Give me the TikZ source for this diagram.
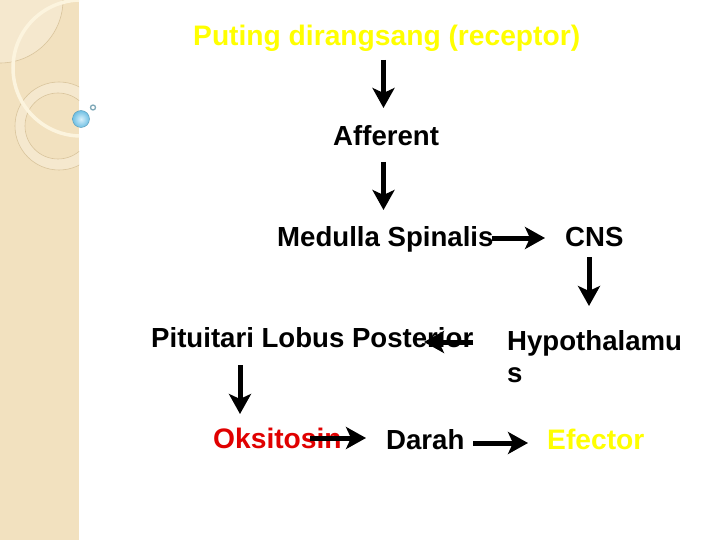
\documentclass[tikz,border=0pt]{standalone}
\usepackage{fontspec}
\setmainfont{Liberation Sans}
\usetikzlibrary{arrows.meta}
\definecolor{panel}{HTML}{F2E1BF}
\definecolor{panelhi}{HTML}{F5E8CE}
\definecolor{ringline}{HTML}{D9C49C}
\definecolor{arcwhite}{HTML}{FCF4DE}
\definecolor{txtyellow}{HTML}{FFFF00}
\definecolor{txtred}{HTML}{E00000}
\definecolor{skyb}{HTML}{6EBFE3}
\definecolor{skyhi}{HTML}{D8F0FB}
\definecolor{ringblue}{HTML}{7FA8B8}
\tikzset{
  lbl/.style={anchor=base west, inner sep=0pt, font=\fontsize{27.6}{32}\selectfont\bfseries, text=black},
  lblbig/.style={lbl, font=\fontsize{28.2}{32}\selectfont\bfseries},
  arr/.style={line width=5pt, -{Stealth[length=20pt,width=22pt,inset=5pt]}},
}
\begin{document}
\begin{tikzpicture}[x=1pt,y=-1pt]
\useasboundingbox (0,0) rectangle (720,540);
\fill[white] (0,0) rectangle (720,540);
% left decorative panel
\fill[panel] (0,0) rectangle (79,540);
\begin{scope}
  \clip (0,0) rectangle (79,540);
  \fill[panelhi, draw=ringline, line width=0.6pt] (0,0) circle (63);
  \fill[panelhi, even odd rule] (59,126) circle (44) (58,126) circle (33);
  \draw[ringline, line width=0.6pt] (59,126) circle (44);
  \draw[ringline, line width=0.6pt] (58,126) circle (33);
  \draw[arcwhite, line width=3.5pt] (81,68) circle (68);
\end{scope}
\shade[inner color=skyhi, outer color=skyb, draw=skyb!80!black, line width=0.4pt] (81,119) circle (8.5);
\draw[ringblue, line width=1.3pt, fill=white] (93,107.5) circle (2.5);
% texts
\node[lblbig, text=txtyellow] (puting) at (193,46) {Puting dirangsang (receptor)};
\node[lbl] (afferent) at (333,146) {Afferent};
\node[lbl] (medulla) at (277,246) {Medulla Spinalis};
\node[lbl] (cns) at (565,246) {CNS};
\node[lbl] (pituitari) at (151,347) {Pituitari Lobus Posterior};
\node[lbl, anchor=north west, align=left] (hypo) at (507,330) {Hypothalamu\\s};
\node[lblbig, text=txtred] (oksitosin) at (213,448) {Oksitosin};
\node[lbl] (darah) at (386,449) {Darah};
\node[lblbig, text=txtyellow] (efector) at (547,449) {Efector};
% arrow end points
\coordinate (a1s) at (383.5,60);  \coordinate (a1e) at (383.5,108);
\coordinate (a2s) at (383.5,162); \coordinate (a2e) at (383.5,210);
\coordinate (a3s) at (492,238);   \coordinate (a3e) at (545,238);
\coordinate (a4s) at (589,257);   \coordinate (a4e) at (589,306);
\coordinate (a5s) at (473,342);   \coordinate (a5e) at (424,342);
\coordinate (a6s) at (240,365);   \coordinate (a6e) at (240,414);
\coordinate (a7s) at (310,438);   \coordinate (a7e) at (366,438);
\coordinate (a8s) at (473,443);   \coordinate (a8e) at (528,443);
\draw[arr] (a1s) -- (a1e);
\draw[arr] (a2s) -- (a2e);
\draw[arr] (a3s) -- (a3e);
\draw[arr] (a4s) -- (a4e);
\draw[arr] (a5s) -- (a5e);
\draw[arr] (a6s) -- (a6e);
\draw[arr] (a7s) -- (a7e);
\draw[arr] (a8s) -- (a8e);
\end{tikzpicture}
\end{document}
